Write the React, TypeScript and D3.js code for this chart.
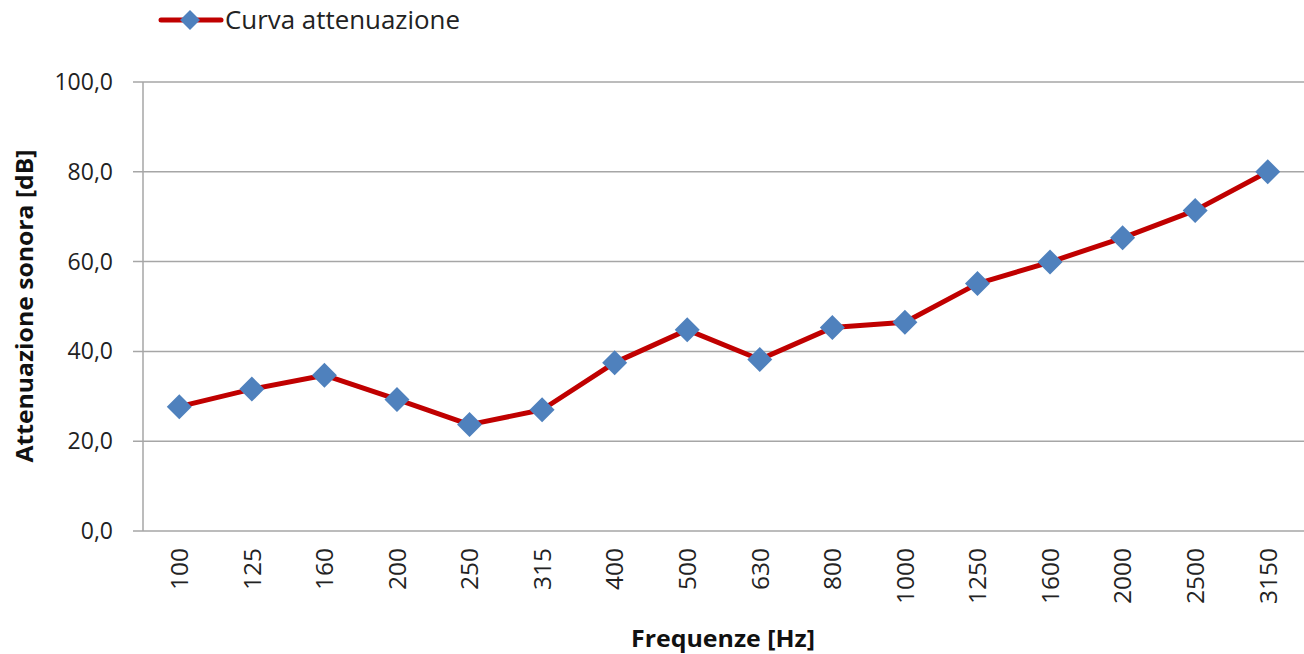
import React from "react";
import * as d3 from "d3";

const categories = ["100", "125", "160", "200", "250", "315", "400", "500", "630", "800", "1000", "1250", "1600", "2000", "2500", "3150"];
const values = [27.7, 31.6, 34.7, 29.3, 23.7, 27.0, 37.5, 44.8, 38.2, 45.3, 46.5, 55.1, 59.9, 65.3, 71.4, 80.0];
const yTicks = [0, 20, 40, 60, 80, 100];
const seriesName = "Curva attenuazione";
const xTitle = "Frequenze [Hz]";
const yTitle = "Attenuazione sonora [dB]";

const W = 1304;
const H = 654;
const FONT = "'Open Sans', 'Liberation Sans', sans-serif";

export default function App() {
  const left = 143, right = 1304, top = 82, bottom = 531;
  const x = d3.scaleBand<string>().domain(categories).range([left, right]).padding(0);
  const y = d3.scaleLinear().domain([0, 100]).range([bottom, top]);
  const cx = (c: string) => (x(c) as number) + x.bandwidth() / 2;
  const line = d3.line<number>().x((_, i) => cx(categories[i])).y((v) => y(v));
  const fmt = (v: number) => v.toFixed(1).replace(".", ",");
  const diamond = (px: number, py: number, r: number) =>
    `M${px},${py - r}L${px + r},${py}L${px},${py + r}L${px - r},${py}Z`;

  return (
    <svg width={W} height={H} style={{ position: "absolute", left: 0, top: 0, background: "#fff" }} fontFamily={FONT}>
      {/* gridlines */}
      {yTicks.map((t) => (
        <g key={t}>
          <line x1={133} x2={right} y1={y(t)} y2={y(t)} stroke="#a6a6a6" strokeWidth={1.5} />
          <text x={113} y={y(t)} dy="0.35em" textAnchor="end" fontSize={23} fill="#222">
            {fmt(t)}
          </text>
        </g>
      ))}
      {/* y axis */}
      <line x1={left} x2={left} y1={top} y2={bottom} stroke="#a6a6a6" strokeWidth={1.5} />
      {/* x labels */}
      {categories.map((c) => (
        <text
          key={c}
          transform={`translate(${cx(c)},${548}) rotate(-90)`}
          textAnchor="end"
          dy="0.36em"
          fontSize={24.5}
          fill="#222"
        >
          {c}
        </text>
      ))}
      {/* series */}
      <path d={line(values) || ""} fill="none" stroke="#c00000" strokeWidth={5} strokeLinejoin="round" />
      {values.map((v, i) => (
        <path key={i} d={diamond(cx(categories[i]), y(v), 12.5)} fill="#4f81bd" />
      ))}
      {/* axis titles */}
      <text
        transform={`translate(${33},${306}) rotate(-90)`}
        textAnchor="middle"
        fontSize={24}
        fontWeight="bold"
        fill="#111"
        textLength={313}
        lengthAdjust="spacingAndGlyphs"
      >
        {yTitle}
      </text>
      <text
        x={723}
        y={647}
        textAnchor="middle"
        fontSize={24}
        fontWeight="bold"
        fill="#111"
        textLength={184}
        lengthAdjust="spacingAndGlyphs"
      >
        {xTitle}
      </text>
      {/* legend */}
      <line x1={161} x2={221} y1={20} y2={20} stroke="#c00000" strokeWidth={5} strokeLinecap="round" />
      <path d={diamond(190, 20, 10)} fill="#4f81bd" />
      <text x={225} y={20} dy="0.35em" fontSize={25} fill="#222" textLength={235} lengthAdjust="spacingAndGlyphs">
        {seriesName}
      </text>
    </svg>
  );
}
